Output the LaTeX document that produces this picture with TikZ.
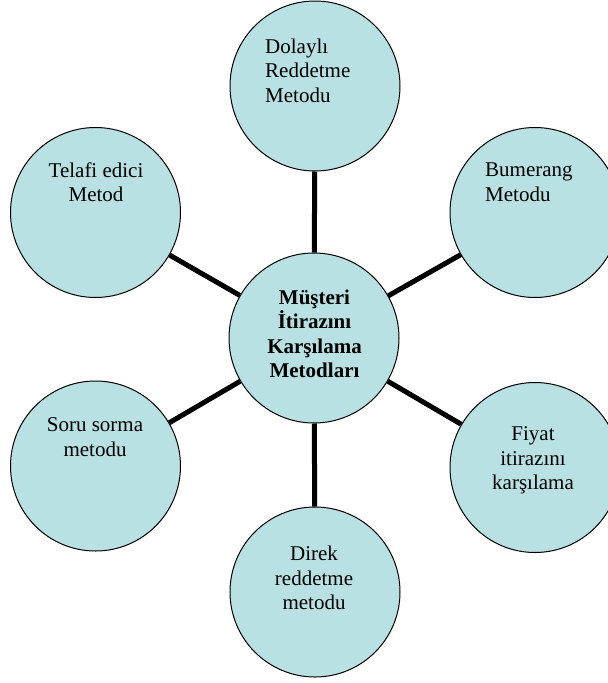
\documentclass[tikz,border=0pt]{standalone}
\usepackage{fontspec}
\setmainfont{Liberation Serif}
\definecolor{fillblue}{RGB}{185,224,227}
\tikzset{
  bubble/.style={circle, draw=black, line width=1pt, fill=fillblue, minimum size=170pt, inner sep=0pt},
  conn/.style={draw=black, line width=5pt},
  lbl/.style={inner sep=0pt, font=\fontsize{21}{24.5}\selectfont},
}
\begin{document}
\begin{tikzpicture}[x=1pt,y=-1pt]
\useasboundingbox (0,0) rectangle (608,683);
\node[bubble] (c) at (314,338) {};
\node[bubble] (d) at (315,86) {};
\node[bubble] (t) at (95.5,212.5) {};
\node[bubble] (b) at (535,212.5) {};
\node[bubble] (s) at (95.5,466) {};
\node[bubble] (f) at (535,467.5) {};
\node[bubble] (r) at (315,592) {};
\draw[conn] (c) -- (d);
\draw[conn] (c) -- (t);
\draw[conn] (c) -- (b);
\draw[conn] (c) -- (s);
\draw[conn] (c) -- (f);
\draw[conn] (c) -- (r);
\node[lbl, align=center, anchor=north, font=\fontsize{21}{24.5}\selectfont\bfseries] (ct) at (314.5,289.5) {Müşteri\\İtirazını\\Karşılama\\Metodları};
\node[lbl, align=left, anchor=north west] (dt) at (265,38.5) {Dolaylı\\Reddetme\\Metodu};
\node[lbl, align=center, anchor=north] (tt) at (96,162.5) {Telafi edici\\Metod};
\node[lbl, align=left, anchor=north west] (bt) at (485,163) {Bumerang\\Metodu};
\node[lbl, align=center, anchor=north] (st) at (95,417.7) {Soru sorma\\metodu};
\node[lbl, align=center, anchor=north] (ft) at (533,426.7) {Fiyat\\itirazını\\karşılama};
\node[lbl, align=center, anchor=north] (rt) at (314,546) {Direk\\reddetme\\metodu};
\end{tikzpicture}
\end{document}
